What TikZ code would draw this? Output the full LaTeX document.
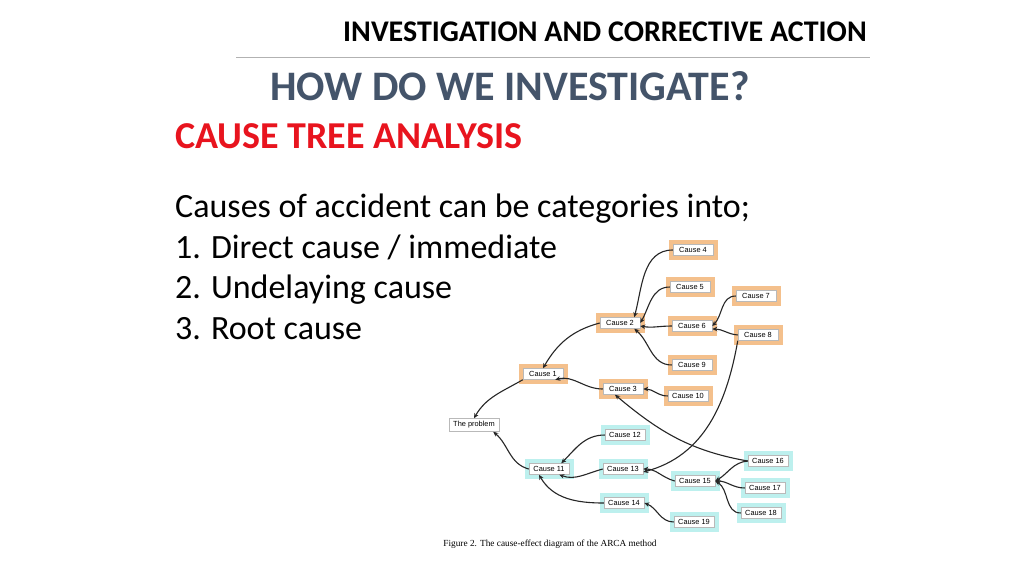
\documentclass[tikz,border=0pt]{standalone}
\usepackage{fontspec}
\setmainfont{Carlito}
\newfontfamily\arialf{Liberation Sans}
\newfontfamily\timesf{Liberation Serif}
\usetikzlibrary{arrows.meta}
\definecolor{orangeC}{HTML}{F4C08C}
\definecolor{cyanC}{HTML}{BDF0EE}
\definecolor{titleblue}{HTML}{44546A}
\definecolor{redC}{HTML}{E8141E}
\tikzset{
 base/.style={fill=white, draw=gray!55, line width=0.5pt, font=\arialf\fontsize{7.4}{8}\selectfont, inner sep=0pt, minimum width=40pt, minimum height=11pt},
 obox/.style={base, preaction={draw=orangeC, line width=9pt, rounded corners=4pt}},
 cbox/.style={base, preaction={draw=cyanC, line width=9pt, rounded corners=4pt}},
 pbox/.style={base, minimum width=50pt, minimum height=13pt},
 arr/.style={-{Stealth[length=5pt,width=4.5pt]}, line width=1.1pt, black!85},
}
\begin{document}
\begin{tikzpicture}[x=1pt,y=-1pt]
\useasboundingbox[fill=white] (0,0) rectangle (1024,576);
\node[font=\bfseries\fontsize{30}{32}\selectfont] (t1) at (605,32) {INVESTIGATION AND CORRECTIVE ACTION};
\coordinate (la) at (236,57); \coordinate (lb) at (870,57);
\draw[gray!60, line width=0.6pt] (la) -- (lb);
\node[font=\bfseries\fontsize{42}{44}\selectfont, text=titleblue] (t2) at (510,86) {HOW DO WE INVESTIGATE?};
\node[font=\bfseries\fontsize{38}{40}\selectfont, text=redC, anchor=west, inner sep=0pt] (t3) at (175,136) {CAUSE TREE ANALYSIS};
\node[font=\fontsize{34}{40.5}\selectfont, anchor=north west, align=left, inner sep=0pt] (body) at (175,194)
 {Causes of accident can be categories into;\\
 1.\hspace{10pt}Direct cause / immediate\\
 2.\hspace{10pt}Undelaying cause\\
 3.\hspace{10pt}Root cause};

\node[obox] (c4) at (693,250) {Cause 4};
\node[obox] (c5) at (690,287) {Cause 5};
\node[obox] (c7) at (756,296) {Cause 7};
\node[obox] (c2) at (620,323) {Cause 2};
\node[obox] (c6) at (692,326) {Cause 6};
\node[obox] (c8) at (758,335) {Cause 8};
\node[obox] (c9) at (692,365) {Cause 9};
\node[obox] (c1) at (543,374) {Cause 1};
\node[obox] (c3) at (623,389) {Cause 3};
\node[obox] (c10) at (688,396) {Cause 10};
\node[pbox] (p) at (474,425) {The problem};
\node[cbox] (c12) at (625,435) {Cause 12};
\node[cbox] (c11) at (549,469) {Cause 11};
\node[cbox] (c13) at (623,469) {Cause 13};
\node[cbox] (c16) at (768,461) {Cause 16};
\node[cbox] (c15) at (695,481) {Cause 15};
\node[cbox] (c17) at (765,488) {Cause 17};
\node[cbox] (c18) at (761,513) {Cause 18};
\node[cbox] (c14) at (624,503) {Cause 14};
\node[cbox] (c19) at (694,522) {Cause 19};
\node[font=\timesf\fontsize{9.3}{10}\selectfont] (cap) at (550,544) {Figure 2. The cause-effect diagram of the ARCA method};

\draw[arr] (c4.west) to[out=180,in=75] ([xshift=-6pt]c2.north east);
\draw[arr] (c5.west) to[out=180,in=60] (c2.east);
\draw[arr] (c6.west) to[out=180,in=-10] ([yshift=-3pt]c2.east);
\draw[arr] (c9.west) to[out=180,in=-40] ([xshift=-6pt]c2.south east);
\draw[arr] (c7.west) to[out=180,in=45] (c6.east);
\draw[arr] (c8.west) to[out=175,in=0] ([yshift=-3pt]c6.east);
\draw[arr] (c8.south west) to[out=-100,in=15] ([yshift=-3pt]c13.east);
\draw[arr] (c2.west) to[out=195,in=60] (c1.north);
\draw[arr] (c3.west) to[out=180,in=15] ([xshift=-8pt]c1.south east);
\draw[arr] (c10.west) to[out=180,in=0] (c3.east);
\draw[arr] (c16.west) to[out=170,in=-40] ([xshift=-8pt]c3.south);
\draw[arr] (c1.south west) to[out=210,in=60] (p.north);
\draw[arr] (c11.west) to[out=165,in=-40] ([xshift=-6pt]p.south east);
\draw[arr] (c12.west) to[out=180,in=45] ([xshift=-8pt]c11.north east);
\draw[arr] (c13.west) to[out=195,in=-20] ([xshift=-10pt]c11.south east);
\draw[arr] (c14.west) to[out=180,in=-60] ([xshift=-10pt]c11.south);
\draw[arr] (c16.west) to[out=185,in=30] (c15.east);
\draw[arr] (c17.west) to[out=180,in=0] (c15.east);
\draw[arr] (c18.west) to[out=180,in=-30] (c15.east);
\draw[arr] (c15.west) to[out=165,in=0] (c13.east);
\draw[arr] (c19.west) to[out=180,in=-20] (c14.east);
\end{tikzpicture}
\end{document}
